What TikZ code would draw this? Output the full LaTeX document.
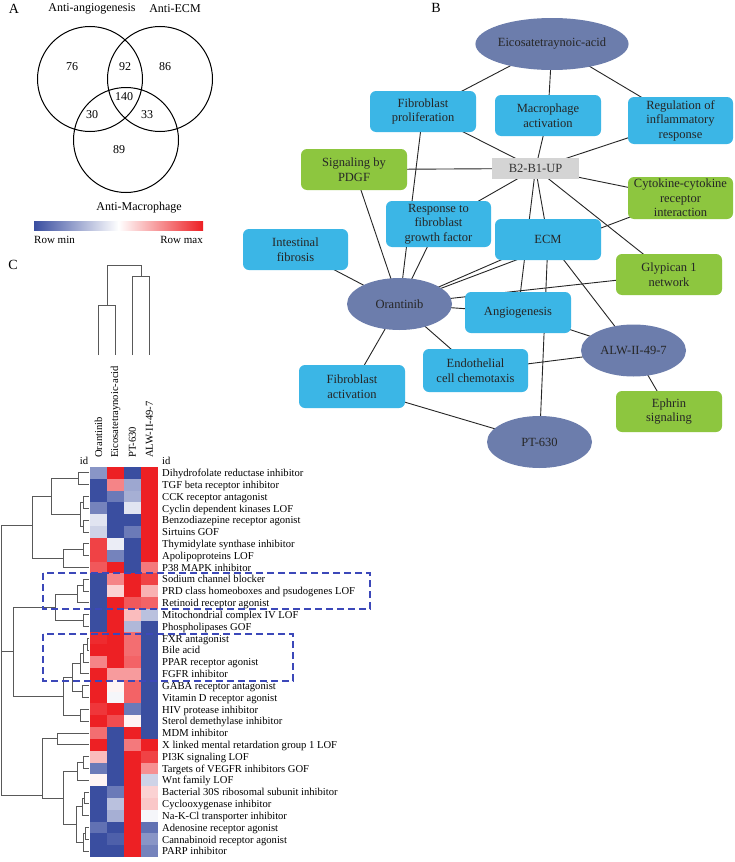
\documentclass[tikz,border=0pt]{standalone}
\usepackage{fontspec}
\setmainfont{Liberation Serif}
\usetikzlibrary{shapes.geometric,backgrounds}
\definecolor{hb}{RGB}{58,78,160}
\definecolor{hr}{RGB}{237,32,36}
\definecolor{netblue}{RGB}{59,182,230}
\definecolor{netgreen}{RGB}{141,198,63}
\definecolor{netell}{RGB}{108,125,172}
\definecolor{netgray}{RGB}{212,212,212}
\definecolor{dashblue}{RGB}{60,72,185}
\newcommand\netfont{\fontsize{12.5}{14.5}\selectfont}
\newcommand\heatfont{\fontsize{10.6}{12}\selectfont}
\newcommand\vennfont{\fontsize{12}{13}\selectfont}
\newcommand\dlink[5]{\draw[dend] (#2,#3) -- (#1,#3) -- (#1,#5) -- (#4,#5);}
\tikzset{
 bluebox/.style={fill=netblue, rounded corners=6pt, minimum width=106pt, minimum height=41pt, align=center, inner sep=1pt, font=\netfont, text=black!85},
 greenbox/.style={bluebox, fill=netgreen},
 drugell/.style={ellipse, fill=netell, minimum width=105pt, minimum height=52pt, inner sep=0pt, font=\netfont, text=black!85},
 hubbox/.style={fill=netgray, minimum width=87pt, minimum height=21pt, inner sep=0pt, font=\netfont, text=black!80},
 netedge/.style={draw=black!85, line width=0.9pt},
 dend/.style={draw=black!65, line width=0.9pt},
 rowlab/.style={anchor=base west, font=\heatfont, inner sep=0pt},
 collab/.style={anchor=west, rotate=90, font=\heatfont, inner sep=0pt},
 vtxt/.style={font=\vennfont, inner sep=0pt},
 panel/.style={font=\fontsize{14}{16}\selectfont, inner sep=0pt},
 dbox/.style={draw=dashblue, line width=1.3pt, dash pattern=on 7pt off 4pt},
}
\begin{document}
\begin{tikzpicture}[x=1pt,y=-1pt]
\useasboundingbox (0,0) rectangle (734,862);
\begin{scope}[on background layer]
\fill[white] (0,0) rectangle (734,862);
\end{scope}

% ---------------- Panel A ----------------
\node[panel] (pA) at (14,9) {A};
\draw[line width=1pt] (90,79) circle[radius=52.5];
\draw[line width=1pt] (160,79) circle[radius=52.5];
\draw[line width=1pt] (126,140) circle[radius=52.5];
\node[vtxt] (tAng) at (92,9) {Anti-angiogenesis};
\node[vtxt] (tEcm) at (175,9) {Anti-ECM};
\node[vtxt] (tMac) at (139,208) {Anti-Macrophage};
\node[vtxt] (n76) at (72,67) {76};
\node[vtxt] (n92) at (125,67) {92};
\node[vtxt] (n86) at (165,67) {86};
\node[vtxt] (n140) at (124,97) {140};
\node[vtxt] (n30) at (92,115) {30};
\node[vtxt] (n33) at (147,115) {33};
\node[vtxt] (n89) at (119,150) {89};
\shade[left color=hb, right color=white] (34,221) rectangle (118.5,230);
\shade[left color=white, right color=hr] (118.5,221) rectangle (203,230);
\node[vtxt, anchor=west, font=\fontsize{11}{12}\selectfont] (rmin) at (34,240) {Row min};
\node[vtxt, anchor=east, font=\fontsize{11}{12}\selectfont] (rmax) at (203,240) {Row max};

% ---------------- Panel C ----------------
\node[panel] (pC) at (13,265) {C};
% column dendrogram
\draw[dend] (98.5,355) -- (98.5,305) -- (115.5,305) -- (115.5,355);
\draw[dend] (132.5,355) -- (132.5,276) -- (149.5,276) -- (149.5,355);
\draw[dend] (107,305) -- (107,265) -- (141,265) -- (141,276);
% column labels
\node[collab] (cOr) at (98.5,458) {Orantinib};
\node[collab] (cEi) at (115.5,458) {Eicosatetraynoic-acid};
\node[collab] (cPT) at (132.5,458) {PT-630};
\node[collab] (cAL) at (149.5,458) {ALW-II-49-7};
\node[font=\heatfont, inner sep=0pt] (idl) at (84,461) {id};
\node[font=\heatfont, inner sep=0pt, anchor=west] (idr) at (162,461) {id};
% heatmap cells
\foreach \r/\ca/\cb/\cc/\cd in {
1/hb!60/hr/hb/hr, 2/hb/hr!55/hb!50/hr, 3/hb/hb!75/hb!45/hr, 4/hb!70/hb/hb!15/hr,
5/hb!15/hb/hb/hr, 6/hb!25/hb/hb!75/hr, 7/hr!85/hb!10/hb/hr, 8/hr!85/hb!70/hb/hr,
9/hr!75/hr/hb/hr!60, 10/hb/hr!55/hr/hr!85, 11/hb/hr!20/hr/hr!35, 12/hb/hr/hr!75/hr!70,
13/hb/hr/hr!30/hb!35, 14/hb/hr/hb!40/hb, 15/hr!95/hr/hr!65/hb, 16/hr/hr/hr!65/hb,
17/hr!55/hr/hr!70/hb, 18/hr/hr!45/hr!45/hb, 19/hr/hr!5/hr!70/hb, 20/hr/hb!5/hr!70/hb,
21/hr!90/hr/hb!75/hb, 22/hr/hr!80/hr!5/hb, 23/hr!65/hb/hr/hb, 24/hr/hb/hr!60/hr,
25/hr!30/hb/hr/hr!85, 26/hb!75/hb/hr/hr!50, 27/hr!5/hb/hr/hb!25, 28/hb/hb!75/hr/hr!20,
29/hb/hb!35/hr/hr!25, 30/hb/hb!45/hr/hb!5, 31/hb!80/hb/hr/hb!80, 32/hb/hb!90/hr/hb!60,
33/hb/hb/hr/hb!70}{
 \pgfmathsetmacro\yt{467+(\r-1)*11.82}
 \fill[\ca] (90,\yt) rectangle ++(17.2,11.9);
 \fill[\cb] (107,\yt) rectangle ++(17.2,11.9);
 \fill[\cc] (124,\yt) rectangle ++(17.2,11.9);
 \fill[\cd] (141,\yt) rectangle ++(17,11.9);
}
% row labels
\foreach \r/\t in {
1/Dihydrofolate reductase inhibitor, 2/TGF beta receptor inhibitor, 3/CCK receptor antagonist,
4/Cyclin dependent kinases LOF, 5/Benzodiazepine receptor agonist, 6/Sirtuins GOF,
7/Thymidylate synthase inhibitor, 8/Apolipoproteins LOF, 9/P38 MAPK inhibitor,
10/Sodium channel blocker, 11/PRD class homeoboxes and psudogenes LOF, 12/Retinoid receptor agonist,
13/Mitochondrial complex IV LOF, 14/Phospholipases GOF, 15/FXR antagonist, 16/Bile acid,
17/PPAR receptor agonist, 18/FGFR inhibitor, 19/GABA receptor antagonist,
20/Vitamin D receptor agonist, 21/HIV protease inhibitor, 22/Sterol demethylase inhibitor,
23/MDM inhibitor, 24/X linked mental retardation group 1 LOF, 25/PI3K signaling LOF,
26/Targets of VEGFR inhibitors GOF, 27/Wnt family LOF, 28/Bacterial 30S ribosomal subunit inhibitor,
29/Cyclooxygenase inhibitor, 30/Na-K-Cl transporter inhibitor, 31/Adenosine receptor agonist,
32/Cannabinoid receptor agonist, 33/PARP inhibitor}{
 \pgfmathsetmacro\yc{467+(\r-0.5)*11.82+3.7}
 \node[rowlab] (lab\r) at (162,\yc) {\t};
}
% row dendrogram
\dlink{78}{89}{472.91}{89}{484.73}
\dlink{83}{89}{496.55}{89}{508.37}
\dlink{83}{89}{520.19}{89}{532.01}
\dlink{80}{83}{502.46}{83}{526.10}
\dlink{51}{78}{478.82}{80}{514.28}
\dlink{83}{89}{543.83}{89}{555.65}
\dlink{63}{83}{549.74}{89}{567.47}
\dlink{32}{51}{496.55}{63}{558.60}
\dlink{83}{89}{579.29}{89}{591.11}
\dlink{77}{83}{585.20}{89}{602.93}
\dlink{83}{89}{614.75}{89}{626.57}
\dlink{55}{77}{594.07}{83}{620.66}
\dlink{87}{89}{638.39}{89}{650.21}
\dlink{83}{87}{644.30}{89}{662.03}
\dlink{80}{83}{653.17}{89}{673.85}
\dlink{82}{89}{685.67}{89}{697.49}
\dlink{72}{80}{663.51}{82}{691.58}
\dlink{80}{89}{709.31}{89}{721.13}
\dlink{63}{72}{677.55}{80}{715.22}
\dlink{13}{55}{607.36}{63}{696.38}
\dlink{57}{89}{732.95}{89}{744.77}
\dlink{83}{89}{756.59}{89}{768.41}
\dlink{77}{83}{762.50}{89}{780.23}
\dlink{84}{89}{792.05}{89}{803.87}
\dlink{82}{84}{797.96}{89}{815.69}
\dlink{85}{89}{827.51}{89}{839.33}
\dlink{83}{85}{833.42}{89}{851.15}
\dlink{76}{82}{806.83}{83}{842.28}
\dlink{63}{77}{771.37}{76}{824.56}
\dlink{42}{57}{738.86}{63}{797.97}
\draw[dend] (32,525) -- (1,525) -- (1,795) -- (42,795);
\draw[dend] (1,651.87) -- (13,651.87);
% dashed boxes
\draw[dbox] (43,573) rectangle (370,609);
\draw[dbox] (43,634) rectangle (293,681);

% ---------------- Panel B ----------------
\node[panel] (pB) at (436,8) {B};
\node[drugell, minimum width=115pt] (eico) at (552,44) {Eicosatetraynoic-acid};
\node[bluebox] (fprol) at (423,111.5) {Fibroblast\\proliferation};
\node[bluebox] (macro) at (548,115.5) {Macrophage\\activation};
\node[bluebox, minimum width=105pt, minimum height=47pt] (regul) at (680.5,120.5) {Regulation of\\inflammatory\\response};
\node[hubbox] (hub) at (535.5,168.5) {B2-B1-UP};
\node[greenbox] (pdgf) at (354,169.5) {Signaling by\\PDGF};
\node[greenbox, minimum width=105pt, minimum height=42pt] (cyto) at (680.5,198) {Cytokine-cytokine\\receptor\\interaction};
\node[bluebox, minimum width=105pt, minimum height=46pt] (rfgf) at (438.5,224) {Response to\\fibroblast\\growth factor};
\node[bluebox, minimum width=105pt] (intf) at (295.5,249.5) {Intestinal\\fibrosis};
\node[bluebox] (ecm) at (548,239.5) {ECM};
\node[greenbox] (glyp) at (669,274.5) {Glypican 1\\network};
\node[drugell] (oran) at (399.5,304) {Orantinib};
\node[bluebox] (angio) at (518,312.5) {Angiogenesis};
\node[drugell] (alw) at (633.5,350.5) {ALW-II-49-7};
\node[bluebox, minimum width=105pt, minimum height=43pt] (endo) at (475.5,370.5) {Endothelial\\cell chemotaxis};
\node[bluebox, minimum height=43pt] (fact) at (352,386.5) {Fibroblast\\activation};
\node[greenbox] (ephr) at (669,411.5) {Ephrin\\signaling};
\node[drugell] (pt) at (539.5,442) {PT-630};
\begin{scope}[on background layer]
\foreach \a/\b in {eico/fprol, eico/macro, eico/regul, fprol/hub, macro/hub, regul/hub,
 pdgf/hub, hub/cyto, hub/rfgf, hub/ecm, hub/angio, hub/glyp, oran/cyto, pdgf/oran,
 fprol/oran, rfgf/oran, intf/oran, oran/ecm, oran/glyp, oran/angio, ecm/pt, ecm/alw,
 angio/alw, endo/oran, endo/alw, oran/fact, fact/pt, alw/ephr}{
 \draw[netedge] (\a.center) -- (\b.center);
}
\end{scope}
\end{tikzpicture}
\end{document}
